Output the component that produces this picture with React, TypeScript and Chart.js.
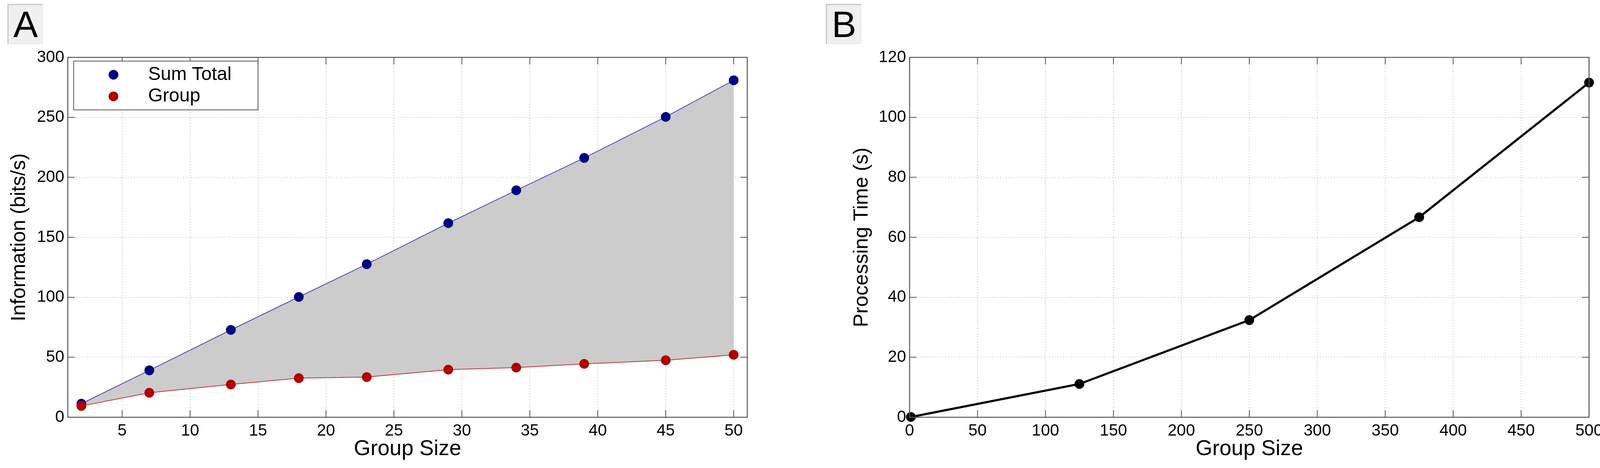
import { useEffect, useRef } from 'react';
import { Chart, registerables } from 'chart.js';
import type { ChartConfiguration, Plugin, Scale } from 'chart.js';

Chart.register(...registerables);

const FONT = "'Liberation Sans', Arial, Helvetica, sans-serif";
const PAGE_H = 1199;

// Panel A: information rate against group size
const groupSizesA = [2, 7, 13, 18, 23, 29, 34, 39, 45, 50];
const sumTotalInfo = [11.3, 39.1, 72.8, 100.3, 127.6, 161.8, 189.2, 216.2, 250.4, 280.9];
const groupInfo = [9.4, 20.4, 27.3, 32.6, 33.5, 39.7, 41.4, 44.5, 47.5, 52.1];
const xTicksA = [5, 10, 15, 20, 25, 30, 35, 40, 45, 50];
const yTicksA = [0, 50, 100, 150, 200, 250, 300];

// Panel B: processing time against group size
const groupSizesB = [1, 125, 250, 375, 500];
const processingTime = [0.1, 11.1, 32.4, 66.7, 111.6];
const xTicksB = [0, 50, 100, 150, 200, 250, 300, 350, 400, 450, 500];
const yTicksB = [0, 20, 40, 60, 80, 100, 120];

const AXIS_COLOR = '#555555';
const GRID_COLOR = '#d2d2d2';
const TICK_LEN = 18;

const tickFont = { family: FONT, size: 42 };
const xTitleFont = { family: FONT, size: 55 };
const yTitleFont = { family: FONT, size: 52 };

const setTicks = (values: number[]) => (scale: Scale) => {
  scale.ticks = values.map((value) => ({ value }));
};

// matlab style box: frame plus inward ticks on every side
const boxPlugin: Plugin = {
  id: 'matlabBox',
  afterDraw(chart) {
    const { ctx, chartArea: area } = chart;
    const x = chart.scales.x;
    const y = chart.scales.y;
    ctx.save();
    ctx.strokeStyle = AXIS_COLOR;
    ctx.lineWidth = 2;
    ctx.beginPath();
    for (const t of x.ticks) {
      const px = x.getPixelForValue(t.value);
      ctx.moveTo(px, area.bottom);
      ctx.lineTo(px, area.bottom - TICK_LEN);
      ctx.moveTo(px, area.top);
      ctx.lineTo(px, area.top + TICK_LEN);
    }
    for (const t of y.ticks) {
      const py = y.getPixelForValue(t.value);
      ctx.moveTo(area.left, py);
      ctx.lineTo(area.left + TICK_LEN, py);
      ctx.moveTo(area.right, py);
      ctx.lineTo(area.right - TICK_LEN, py);
    }
    ctx.stroke();
    ctx.lineWidth = 2.5;
    ctx.strokeRect(area.left, area.top, area.right - area.left, area.bottom - area.top);
    ctx.restore();
  },
};

// legend box sitting inside the plot, top-left corner
const insetLegend: Plugin = {
  id: 'insetLegend',
  afterDraw(chart) {
    const { ctx, chartArea: area } = chart;
    const left = area.left + 15;
    const top = area.top + 9.5;
    ctx.save();
    ctx.fillStyle = '#ffffff';
    ctx.fillRect(left, top, 472, 125);
    ctx.strokeStyle = AXIS_COLOR;
    ctx.lineWidth = 2;
    ctx.strokeRect(left, top, 472, 125);
    ctx.font = `48px ${FONT}`;
    ctx.textBaseline = 'middle';
    chart.data.datasets.forEach((ds: any, i) => {
      const cy = top + 35 + i * 55.5;
      ctx.fillStyle = ds.pointBackgroundColor;
      ctx.beginPath();
      ctx.arc(left + 102, cy, 12.5, 0, Math.PI * 2);
      ctx.fill();
      ctx.fillStyle = '#000';
      ctx.fillText(ds.label ?? '', left + 190.7, cy);
    });
    ctx.restore();
  },
};

function xAxis(min: number, max: number, ticks: number[], title: string) {
  return {
    type: 'linear' as const,
    min,
    max,
    afterBuildTicks: setTicks(ticks),
    afterFit: (s: any) => {
      s.height = 130;
    },
    grid: { color: GRID_COLOR, lineWidth: 2, drawTicks: false },
    border: { display: false, dash: [3, 4] },
    ticks: { font: tickFont, color: '#000', padding: 10, maxRotation: 0, autoSkip: false },
    title: { display: true, text: title, font: xTitleFont, color: '#000', padding: { top: 0, bottom: 15 } },
  };
}

function yAxis(min: number, max: number, ticks: number[], title: string, width: number, titlePad: number) {
  return {
    type: 'linear' as const,
    min,
    max,
    afterBuildTicks: setTicks(ticks),
    afterFit: (s: any) => {
      s.width = width;
    },
    grid: { color: GRID_COLOR, lineWidth: 2, drawTicks: false },
    border: { display: false, dash: [3, 4] },
    ticks: { font: tickFont, color: '#000', padding: 9, autoSkip: false },
    title: { display: true, text: title, font: yTitleFont, color: '#000', padding: { top: titlePad, bottom: 0 } },
  };
}

const baseOptions = {
  animation: false as const,
  responsive: false,
  devicePixelRatio: 1,
  events: [],
  plugins: { legend: { display: false }, tooltip: { enabled: false } },
};

function configA(): ChartConfiguration<'line'> {
  return {
    type: 'line',
    data: {
      datasets: [
        {
          label: 'Sum Total',
          data: groupSizesA.map((x, i) => ({ x, y: sumTotalInfo[i] })),
          borderColor: '#4848b8',
          borderWidth: 2,
          pointBackgroundColor: '#000080',
          pointBorderWidth: 0,
          pointRadius: 12.5,
          backgroundColor: '#cccccc',
          fill: 1,
          order: 1,
          clip: false,
        },
        {
          label: 'Group',
          data: groupSizesA.map((x, i) => ({ x, y: groupInfo[i] })),
          borderColor: '#c83232',
          borderWidth: 2,
          pointBackgroundColor: '#b00000',
          pointBorderWidth: 0,
          pointRadius: 12.5,
          fill: false,
          order: 0,
          clip: false,
        },
      ],
    },
    options: {
      ...baseOptions,
      layout: { padding: { left: 0, top: 147, right: 87, bottom: 0 } },
      scales: {
        x: xAxis(1, 51, xTicksA, 'Group Size'),
        y: yAxis(0, 300, yTicksA, 'Information (bits/s)', 173.5, 18),
      },
    } as any,
    plugins: [boxPlugin, insetLegend],
  };
}

function configB(): ChartConfiguration<'line'> {
  return {
    type: 'line',
    data: {
      datasets: [
        {
          label: 'Processing Time',
          data: groupSizesB.map((x, i) => ({ x, y: processingTime[i] })),
          borderColor: '#000000',
          borderWidth: 5.5,
          pointBackgroundColor: '#000000',
          pointBorderWidth: 0,
          pointRadius: 12.5,
          fill: false,
          clip: false,
        },
      ],
    },
    options: {
      ...baseOptions,
      layout: { padding: { left: 0, top: 147, right: 47, bottom: 0 } },
      scales: {
        x: xAxis(0, 500, xTicksB, 'Group Size'),
        y: yAxis(0, 120, yTicksB, 'Processing Time (s)', 268.5, 115),
      },
    } as any,
    plugins: [boxPlugin],
  };
}

function ChartCanvas({ build, left, width }: { build: () => ChartConfiguration<'line'>; left: number; width: number }) {
  const canvasRef = useRef<HTMLCanvasElement | null>(null);

  useEffect(() => {
    if (!canvasRef.current) return;
    const chart = new Chart(canvasRef.current, build());
    return () => chart.destroy();
  }, [build]);

  return (
    <canvas
      ref={canvasRef}
      width={width}
      height={PAGE_H}
      style={{ position: 'absolute', left, top: 0, width, height: PAGE_H }}
    />
  );
}

function PanelLabel({ letter, left }: { letter: string; left: number }) {
  return (
    <div
      style={{
        position: 'absolute',
        left,
        top: 10,
        width: 91,
        height: 103,
        boxSizing: 'border-box',
        background: '#f0f0f0',
        borderTop: '3px solid #c8c8c8',
        borderLeft: '3px solid #c8c8c8',
        borderRight: '1px solid #e6e6e6',
        borderBottom: '1px solid #e6e6e6',
        display: 'flex',
        alignItems: 'center',
        justifyContent: 'center',
        fontFamily: FONT,
        fontSize: 94,
        lineHeight: 1,
        color: '#000',
      }}
    >
      {letter}
    </div>
  );
}

export default function App() {
  return (
    <div
      style={{
        position: 'absolute',
        left: 0,
        top: 0,
        width: 4115,
        height: PAGE_H,
        background: '#ffffff',
        overflow: 'hidden',
      }}
    >
      <ChartCanvas build={configA} left={0} width={2000} />
      <ChartCanvas build={configB} left={2060} width={2055} />
      <PanelLabel letter="A" left={19} />
      <PanelLabel letter="B" left={2114} />
    </div>
  );
}
